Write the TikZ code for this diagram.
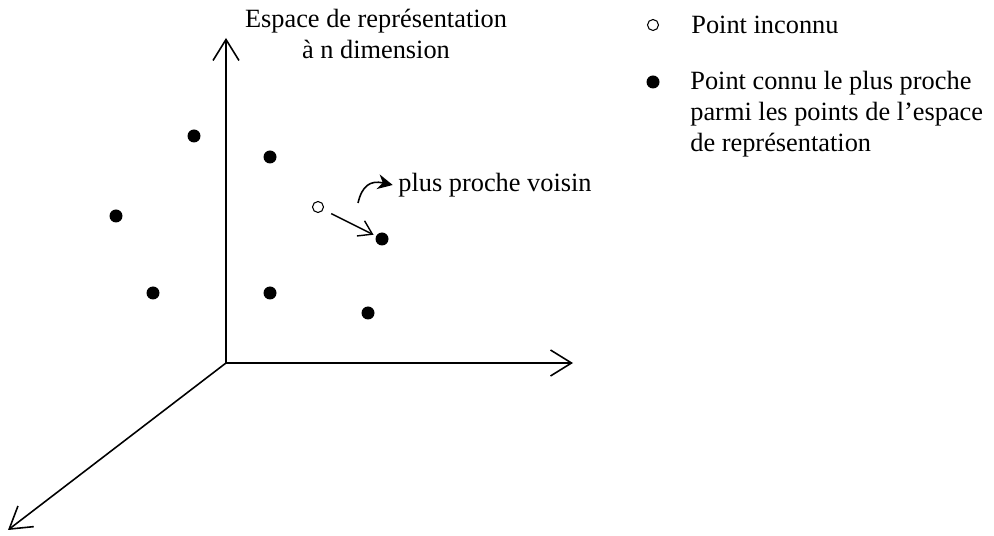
\documentclass[tikz,border=0pt]{standalone}
\usepackage{fontspec}
\setmainfont{Liberation Serif}
\usetikzlibrary{positioning, arrows.meta, calc}

\begin{document}
\begin{tikzpicture}[x=0.02cm, y=-0.02cm,
        connu/.style={circle, fill=black, inner sep=0pt, minimum size=0.26cm},
        inconnu/.style={circle, draw=black, line width=0.6pt, fill=white, inner sep=0pt, minimum size=0.22cm},
        axe/.style={line width=0.9pt, -{Straight Barb[length=4.2mm, width=5.2mm]}},
        texte/.style={font=\fontsize{15}{17.5}\selectfont, inner sep=0pt}]
        \useasboundingbox (0,0) rectangle (994,536);
        %dessin axes
        \coordinate (O) at (226,363);
        \coordinate (Ay) at (226,38);
        \coordinate (Ax) at (573,363);
        \coordinate (Az) at (8,530);
        \draw[axe] (O)--(Ay);
        \draw[axe] (O)--(Ax);
        \draw[axe] (O)--(Az);
        \node[texte, align=center] (titre) at (376,34) {Espace de représentation\\à n dimension};
        %dessin points connus
        \node[connu] (p1) at (194,136) {};
        \node[connu] (p2) at (270,157) {};
        \node[connu] (p3) at (116,216) {};
        \node[connu] (p4) at (153,293) {};
        \node[connu] (p5) at (270,293) {};
        \node[connu] (p6) at (368,313) {};
        \node[connu] (pv) at (382,239) {};
        %dessin point inconnu
        \node[inconnu] (pi) at (318,207) {};
        \draw[line width=0.8pt, -{Straight Barb[length=2.6mm, width=3.4mm]}, shorten <=5pt, shorten >=1.5pt] (pi)--(pv);
        \node[texte, anchor=west] (voisin) at (398,185) {plus proche voisin};
        \coordinate (c0) at (358,203);
        \draw[line width=0.9pt, -{Stealth[length=3mm, width=3mm]}] (c0)..controls (362,186) and (370,180).. ([xshift=-3pt]voisin.west);
        %legende
        \node[inconnu] (lu) at (653,25) {};
        \node[texte, right=0.64cm of lu] (lut) {Point inconnu};
        \node[connu] (lc) at (653,82) {};
        \node[texte, align=left, anchor=north west] (lct) at (690,71) {Point connu le plus proche\\parmi les points de l'espace\\de représentation};
    \end{tikzpicture}
\end{document}
